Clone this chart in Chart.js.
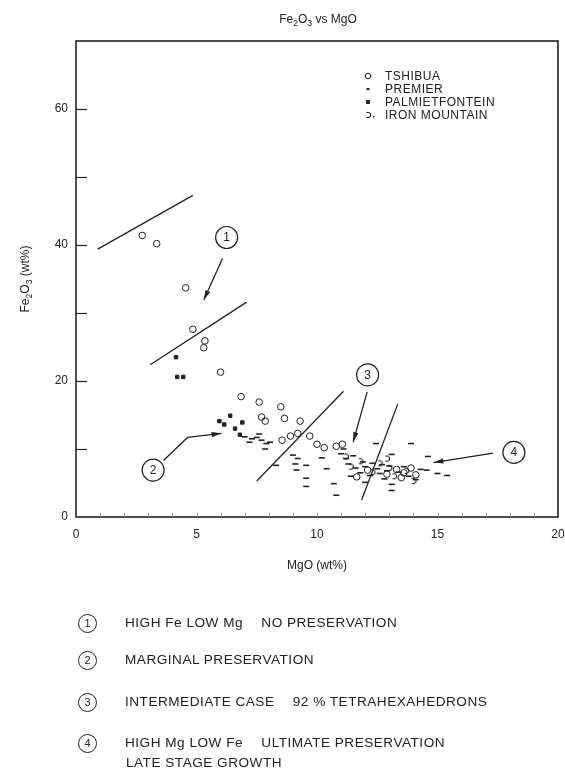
<!DOCTYPE html>
<html>
<head>
<meta charset="utf-8">
<script src="https://cdn.jsdelivr.net/npm/chart.js@4/dist/chart.umd.min.js"></script>
<style>
body { margin: 0; background: #fff; }
#wrap { position: relative; width: 565px; height: 773px; font-family: "Liberation Sans", Arial, sans-serif; color: #222; }
#c { position: absolute; left: 0; top: 0; }
.t { position: absolute; white-space: nowrap; }
sub { font-size: 0.72em; vertical-align: -0.3em; line-height: 0; }
#title { left: 0; width: 636px; top: 12px; text-align: center; font-size: 12px; }
#xtitle { left: 0; width: 634px; top: 558px; text-align: center; font-size: 12px; }
#ytitle { left: -35px; top: 272px; width: 120px; text-align: center; font-size: 12px; transform: rotate(-90deg); }
.note { position: absolute; left: 78px; font-size: 13.6px; letter-spacing: 0.5px; white-space: nowrap; }
.num { display: inline-block; width: 17px; height: 17px; line-height: 17px; border: 1.3px solid #222; border-radius: 50%; text-align: center; font-size: 11px; letter-spacing: 0; margin-right: 28px; vertical-align: middle; }
.gap { display: inline-block; width: 14px; }
</style>
</head>
<body>
<div id="wrap">
<canvas id="c" width="565" height="773"></canvas>
<div class="t" id="title">Fe<sub>2</sub>O<sub>3</sub> vs MgO</div>
<div class="t" id="xtitle">MgO (wt%)</div>
<div class="t" id="ytitle">Fe<sub>2</sub>O<sub>3</sub> (wt%)</div>
<div class="note" style="top:614px"><span class="num">1</span>HIGH Fe LOW Mg <span class="gap"></span>NO PRESERVATION</div>
<div class="note" style="top:651px"><span class="num">2</span>MARGINAL PRESERVATION</div>
<div class="note" style="top:693px"><span class="num">3</span>INTERMEDIATE CASE <span class="gap"></span>92 % TETRAHEXAHEDRONS</div>
<div class="note" style="top:734px"><span class="num">4</span>HIGH Mg LOW Fe <span class="gap"></span>ULTIMATE PRESERVATION</div>
<div class="note" style="top:755px; left:126px">LATE STAGE GROWTH</div>
</div>
<script>
// values (MgO wt%, Fe2O3 wt%)
const tshibuaMgO = [2.75, 3.35, 4.55, 4.85, 5.35, 5.3, 6.0, 6.85, 7.6, 8.5, 7.7, 7.85, 8.65, 9.3, 8.55, 8.9, 9.2, 9.7, 10.0, 10.3, 10.8, 11.05, 11.65, 12.1, 12.9, 13.3, 13.6, 13.9, 14.1, 13.5]
const tshibuaFe = [41.4, 40.2, 33.7, 27.6, 25.9, 24.9, 21.3, 17.7, 16.9, 16.2, 14.7, 14.1, 14.5, 14.1, 11.3, 11.9, 12.3, 11.9, 10.7, 10.2, 10.4, 10.7, 5.9, 6.9, 6.3, 7.0, 6.5, 7.2, 6.2, 5.8]

const premierMgO = [7.0, 7.2, 7.3, 7.5, 7.6, 7.7, 7.85, 7.9, 8.05, 8.3, 9.0, 9.2, 9.1, 9.15, 9.55, 9.55, 9.55, 10.2, 10.4, 10.7, 10.8, 11.0, 11.1, 11.2, 11.5, 11.3, 11.6, 11.9, 12.0, 12.3, 12.5, 12.7, 12.9, 11.8, 12.2, 11.4, 12.6, 13.0, 12.45, 13.9, 13.1, 14.6, 15.0, 15.4, 14.55, 13.1, 13.1, 14.3, 13.8, 14.1, 12.8, 13.4, 13.6, 12.0]
const premierFe = [11.8, 11.0, 11.5, 11.7, 12.2, 11.3, 10.0, 10.8, 11.0, 7.6, 9.1, 8.6, 7.8, 6.9, 7.6, 5.7, 4.5, 8.7, 7.1, 4.9, 3.2, 9.3, 10.0, 8.6, 9.0, 7.8, 7.2, 8.1, 7.4, 7.9, 7.1, 7.7, 6.8, 6.5, 6.1, 6.0, 6.4, 7.5, 10.8, 10.8, 9.2, 8.9, 6.4, 6.1, 6.9, 4.8, 3.9, 7.0, 6.0, 5.5, 5.6, 6.6, 7.4, 5.1]

const palmMgO = [4.15, 4.2, 4.45, 5.95, 6.4, 6.9, 6.6, 6.8, 6.15]
const palmFe = [23.5, 20.6, 20.6, 14.1, 14.9, 13.9, 13.0, 12.1, 13.6]

const ironMgO = [11.4, 11.8, 12.3, 12.6, 13.0, 13.2, 13.7, 14.0, 11.2, 12.9]
const ironFe = [7.4, 8.2, 6.6, 7.9, 7.2, 6.0, 6.8, 5.3, 8.9, 8.6]

const seriesNames = ['TSHIBUA', 'PREMIER', 'PALMIETFONTEIN', 'IRON MOUNTAIN']
const xTicks = [0, 5, 10, 15, 20]
const yTicks = [0, 20, 40, 60]

// field boundaries drawn on the plot, in data units [x1, y1, x2, y2]
const boundaryLines = [[0.9, 39.4, 4.85, 47.3], [3.08, 22.4, 7.08, 31.6], [7.5, 5.3, 11.1, 18.5], [11.85, 2.5, 13.35, 16.6]]
// circled labels and their arrows, in data units
const calloutLabels = ['1', '2', '3', '4']
const calloutCentres = [[6.25, 41.1], [3.2, 6.9], [12.1, 20.9], [18.17, 9.5]]
const calloutArrows = [
    [[6.08, 38.0], [5.3, 31.9]],
    [[3.63, 8.3], [4.63, 11.7], [6.04, 12.3]],
    [[12.08, 18.4], [11.5, 11.0]],
    [[17.3, 9.4], [14.83, 8.0]]
]

const ink = '#222'

function pts(xs, ys) {
    return xs.map((x, i) => ({x: x, y: ys[i]}))
}

// little open hook used for Iron Mountain
function hookMark() {
    let cv = document.createElement('canvas')
    cv.width = 8
    cv.height = 8
    let g = cv.getContext('2d')
    g.strokeStyle = ink
    g.lineWidth = 1.1
    g.beginPath()
    g.arc(4, 4, 2.6, -0.7 * Math.PI, 0.7 * Math.PI)
    g.stroke()
    return cv
}
const hook = hookMark()

function drawMarker(ctx, i, x, y) {
    ctx.save()
    ctx.strokeStyle = ink
    ctx.fillStyle = ink
    ctx.lineWidth = 1
    if (i == 0) {
        ctx.beginPath(); ctx.arc(x, y, 2.8, 0, Math.PI * 2); ctx.stroke()
    } else if (i == 1) {
        ctx.fillRect(x - 1.5, y - 1, 3, 2)
    } else if (i == 2) {
        ctx.fillRect(x - 2, y - 2, 4, 4)
    } else {
        ctx.drawImage(hook, x - 4, y - 4)
        ctx.fillRect(x + 5, y + 1, 1.5, 1.5)
    }
    ctx.restore()
}

function arrowHead(ctx, x0, y0, x1, y1) {
    let a = Math.atan2(y1 - y0, x1 - x0)
    ctx.beginPath()
    ctx.moveTo(x1, y1)
    ctx.lineTo(x1 - 10 * Math.cos(a) + 2.6 * Math.sin(a), y1 - 10 * Math.sin(a) - 2.6 * Math.cos(a))
    ctx.lineTo(x1 - 10 * Math.cos(a) - 2.6 * Math.sin(a), y1 - 10 * Math.sin(a) + 2.6 * Math.cos(a))
    ctx.closePath()
    ctx.fill()
}

const decorations = {
    id: 'decorations',
    afterDatasetsDraw(chart) {
        let ctx = chart.ctx
        let a = chart.chartArea
        let sx = chart.scales.x
        let sy = chart.scales.y
        ctx.save()
        ctx.strokeStyle = ink
        ctx.fillStyle = ink

        // frame
        ctx.lineWidth = 1.6
        ctx.strokeRect(a.left, a.top, a.right - a.left, a.bottom - a.top)

        // inward ticks
        ctx.lineWidth = 1.2
        for (let v = 10; v <= 60; v += 10) {
            let py = Math.round(sy.getPixelForValue(v)) + 0.5
            ctx.beginPath(); ctx.moveTo(a.left, py); ctx.lineTo(a.left + 11, py); ctx.stroke()
        }
        ctx.lineWidth = 0.8
        ctx.strokeStyle = '#777'
        for (let v = 1; v < 20; v++) {
            let px = Math.round(sx.getPixelForValue(v)) + 0.5
            ctx.beginPath(); ctx.moveTo(px, a.bottom); ctx.lineTo(px, a.bottom - 4); ctx.stroke()
        }
        ctx.strokeStyle = ink

        // boundary lines
        ctx.lineWidth = 1.3
        boundaryLines.forEach(l => {
            ctx.beginPath()
            ctx.moveTo(sx.getPixelForValue(l[0]), sy.getPixelForValue(l[1]))
            ctx.lineTo(sx.getPixelForValue(l[2]), sy.getPixelForValue(l[3]))
            ctx.stroke()
        })

        // callouts
        ctx.font = '12px "Liberation Sans", Arial, sans-serif'
        ctx.textAlign = 'center'
        ctx.textBaseline = 'middle'
        calloutLabels.forEach((lab, i) => {
            let cx = sx.getPixelForValue(calloutCentres[i][0])
            let cy = sy.getPixelForValue(calloutCentres[i][1])
            ctx.lineWidth = 1.2
            ctx.beginPath(); ctx.arc(cx, cy, 11, 0, Math.PI * 2); ctx.stroke()
            ctx.fillText(lab, cx, cy + 0.5)
            let path = calloutArrows[i].map(p => [sx.getPixelForValue(p[0]), sy.getPixelForValue(p[1])])
            ctx.lineWidth = 1.3
            ctx.beginPath()
            path.forEach((p, k) => k == 0 ? ctx.moveTo(p[0], p[1]) : ctx.lineTo(p[0], p[1]))
            ctx.stroke()
            let n = path.length
            arrowHead(ctx, path[n - 2][0], path[n - 2][1], path[n - 1][0], path[n - 1][1])
        })

        // legend inside the plot
        ctx.font = '12px "Liberation Sans", Arial, sans-serif'
        ctx.letterSpacing = '0.5px'
        ctx.textAlign = 'left'
        seriesNames.forEach((name, i) => {
            let y = 76 + i * 13
            drawMarker(ctx, i, 368, y)
            ctx.fillStyle = ink
            ctx.fillText(name, 385, y + 0.5)
        })
        ctx.restore()
    }
}

new Chart(document.getElementById('c'), {
    type: 'scatter',
    data: {
        datasets: [{
            label: seriesNames[0],
            data: pts(tshibuaMgO, tshibuaFe),
            pointStyle: 'circle',
            pointRadius: 3.3,
            borderColor: ink,
            borderWidth: 1,
            backgroundColor: 'rgba(0,0,0,0)'
        }, {
            label: seriesNames[1],
            data: pts(premierMgO, premierFe),
            pointStyle: 'line',
            pointRadius: 3,
            borderColor: ink,
            borderWidth: 1.6,
            backgroundColor: ink
        }, {
            label: seriesNames[2],
            data: pts(palmMgO, palmFe),
            pointStyle: 'rect',
            pointRadius: 2.4,
            borderColor: ink,
            borderWidth: 1,
            backgroundColor: ink
        }, {
            label: seriesNames[3],
            data: pts(ironMgO, ironFe),
            pointStyle: hook,
            pointRadius: 3,
            borderColor: ink,
            backgroundColor: ink
        }]
    },
    options: {
        responsive: false,
        animation: false,
        devicePixelRatio: 1,
        layout: {padding: {left: 0, top: 41, right: 7, bottom: 226}},
        plugins: {
            legend: {display: false},
            tooltip: {enabled: false}
        },
        scales: {
            x: {
                type: 'linear', min: 0, max: 20,
                afterBuildTicks: s => { s.ticks = xTicks.map(v => ({value: v})) },
                ticks: {padding: 10, color: ink, font: {family: '"Liberation Sans", Arial, sans-serif', size: 12}},
                grid: {display: false, drawTicks: false},
                border: {display: false},
                afterFit: s => { s.height = 30; s.paddingLeft = 0; s.paddingRight = 0 }
            },
            y: {
                type: 'linear', min: 0, max: 70,
                afterBuildTicks: s => { s.ticks = yTicks.map(v => ({value: v})) },
                ticks: {padding: 8, color: ink, font: {family: '"Liberation Sans", Arial, sans-serif', size: 12}},
                grid: {display: false, drawTicks: false},
                border: {display: false},
                afterFit: s => { s.width = 76; s.paddingTop = 0; s.paddingBottom = 0 }
            }
        }
    },
    plugins: [decorations]
})
</script>
</body>
</html>
